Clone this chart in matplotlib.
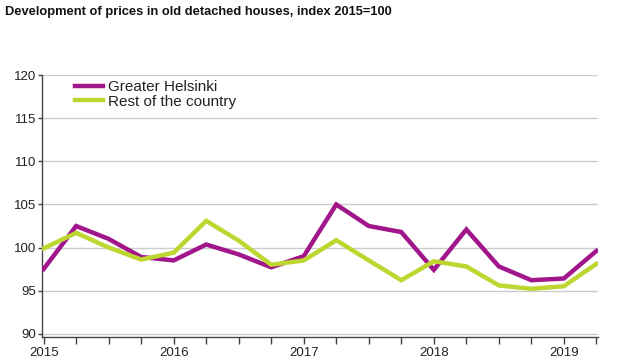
import matplotlib
matplotlib.use("Agg")
import matplotlib.pyplot as plt
import numpy as np

plt.rcParams['font.family'] = ['Liberation Sans', 'DejaVu Sans']

quarters = ["2015Q1", "2015Q2", "2015Q3", "2015Q4", "2016Q1", "2016Q2", "2016Q3", "2016Q4",
            "2017Q1", "2017Q2", "2017Q3", "2017Q4", "2018Q1", "2018Q2", "2018Q3", "2018Q4",
            "2019Q1", "2019Q2"]
helsinki = [97.5, 102.5, 101.0, 98.9, 98.5, 100.35, 99.2, 97.7, 99.0, 105.0, 102.5, 101.8,
            97.4, 102.1, 97.8, 96.2, 96.4, 99.6]
rest = [99.9, 101.7, 100.0, 98.6, 99.4, 103.1, 100.8, 98.0, 98.5, 100.85, 98.5, 96.2,
        98.4, 97.8, 95.6, 95.2, 95.5, 98.1]
year_labels = ["2015", "2016", "2017", "2018", "2019"]
yticks = [90, 95, 100, 105, 110, 115, 120]
series_names = ["Greater Helsinki", "Rest of the country"]
colors = ["#a1168b", "#bfd630"]

fig = plt.figure(figsize=(6.42, 3.61), dpi=100)
ax = fig.add_axes([42/642, 1 - 337/361, (598 - 42)/642, (337 - 75)/361])

x = np.arange(len(quarters))
ax.plot(x, helsinki, color=colors[0], lw=3.2, label=series_names[0], solid_joinstyle='miter', zorder=3)
ax.plot(x, rest, color=colors[1], lw=3.2, label=series_names[1], solid_joinstyle='miter', zorder=3)

ax.set_xlim(-0.05, 17.05)
ax.set_ylim(89.6, 120.05)
ax.set_yticks(yticks)
ax.set_yticklabels([str(v) for v in yticks])
ax.set_xticks(x)
ax.set_xticklabels([year_labels[i // 4] if i % 4 == 0 else "" for i in x])

ax.grid(axis='y', color='#cccccc', lw=1)
ax.set_axisbelow(True)
for s in ['top', 'right']:
    ax.spines[s].set_visible(False)
for s in ['left', 'bottom']:
    ax.spines[s].set_color('#444444')
    ax.spines[s].set_linewidth(1)
ax.tick_params(axis='y', length=3, width=1, color='#444444', labelcolor='#222222', labelsize=9.5, pad=1)
ax.tick_params(axis='x', length=5, width=1, color='#444444', labelcolor='#222222', labelsize=9.5, pad=2)

leg = ax.legend(loc='upper left', bbox_to_anchor=(72/642, 1 - 77/361), bbox_transform=fig.transFigure,
                borderaxespad=0, frameon=True, fontsize=11,
                handlelength=1.83, handletextpad=0.33, labelspacing=0.05, borderpad=0.2)
leg.get_frame().set_facecolor('white')
leg.get_frame().set_edgecolor('none')
leg.get_frame().set_alpha(1)
leg.get_frame().set_boxstyle('square', pad=0)
for h in leg.get_lines():
    h.set_linewidth(3.2)
for t in leg.get_texts():
    t.set_color('#222222')

fig.text(5/642, 1 - 12/361, "Development of prices in old detached houses, index 2015=100",
         fontsize=9.3, fontweight='bold', color='#111111', va='center', ha='left')

fig.savefig("out.png", dpi=100)
